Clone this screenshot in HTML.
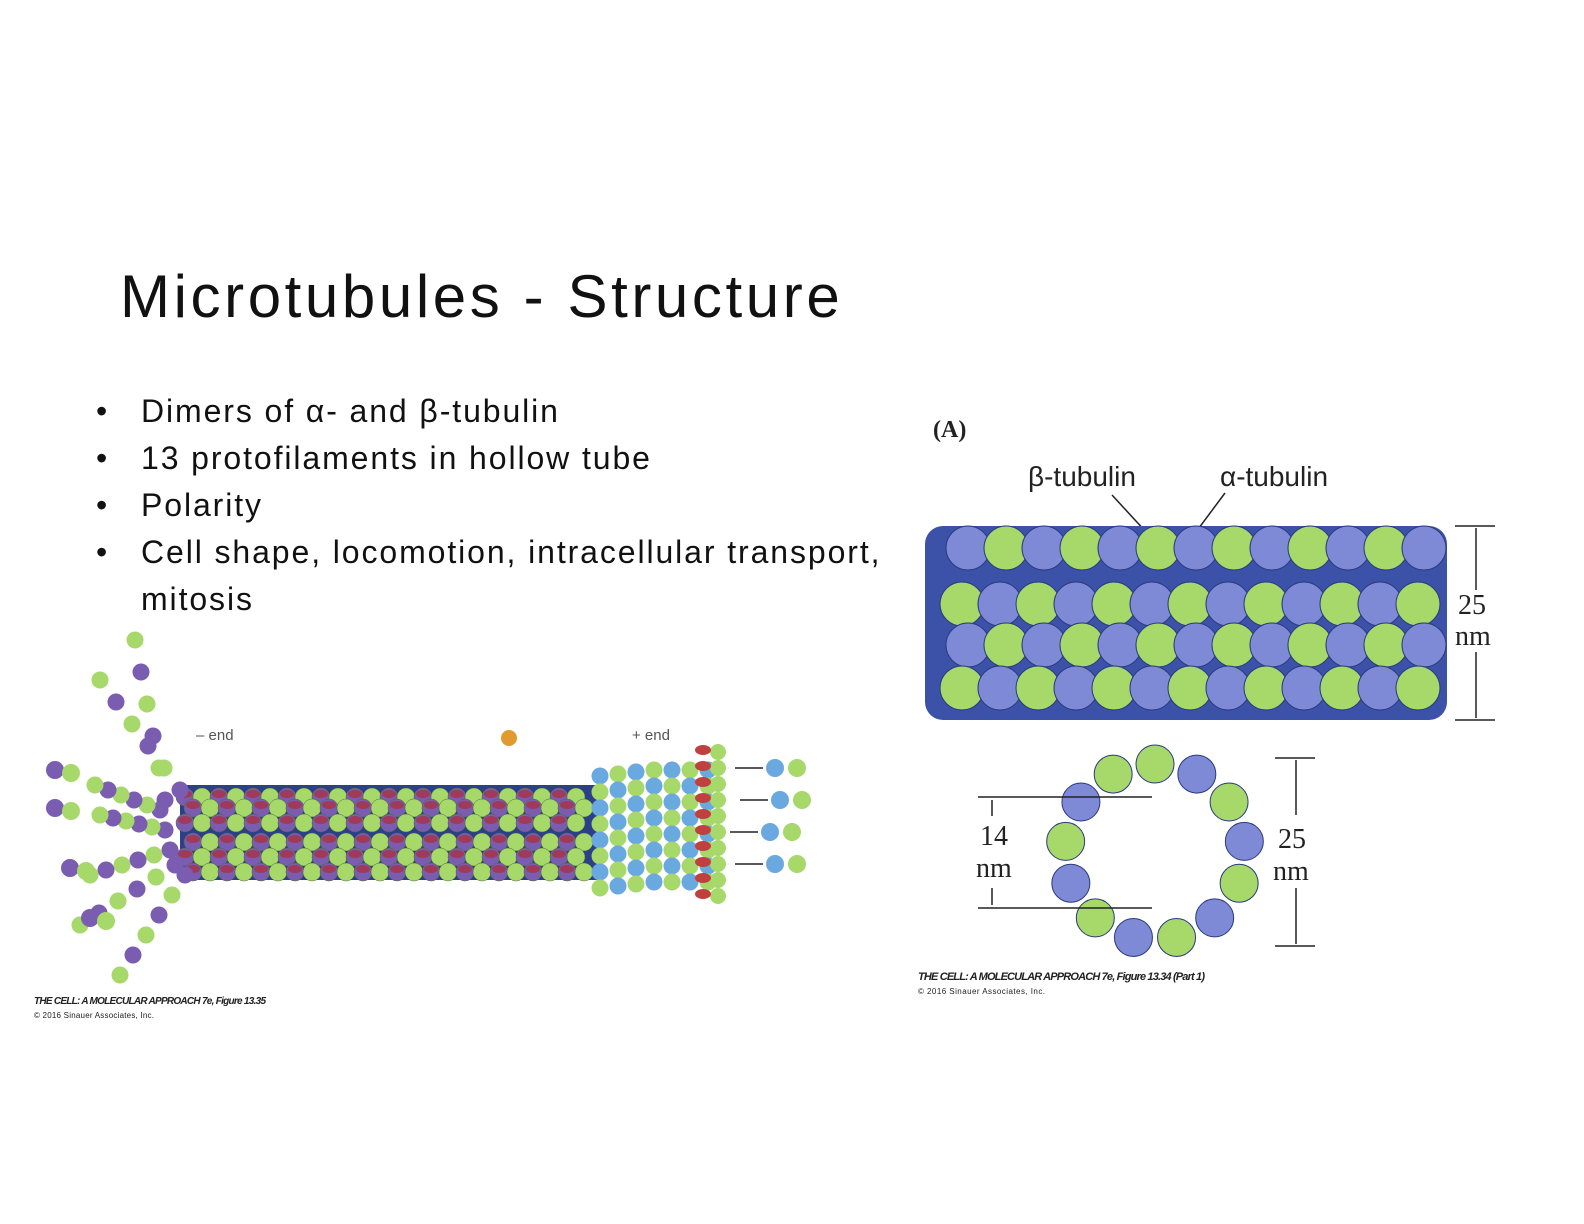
<!DOCTYPE html>
<html><head><meta charset="utf-8"><style>
body{margin:0;background:#fff;}
#page{position:relative;width:1584px;height:1224px;overflow:hidden;font-family:"Liberation Sans",sans-serif;}
.t{position:absolute;white-space:nowrap;color:#111;}
.b{font-size:32px;letter-spacing:1.9px;}
</style></head><body>
<div id="page">
<div class="t" style="left:120px;top:262px;font-size:60px;letter-spacing:3.6px;color:#111;">Microtubules - Structure</div>
<div>
<div class="t b" style="left:96px;top:393px;">•<span style="position:absolute;left:45px">Dimers of α- and β-tubulin</span></div>
<div class="t b" style="left:96px;top:440px;">•<span style="position:absolute;left:45px">13 protofilaments in hollow tube</span></div>
<div class="t b" style="left:96px;top:487px;">•<span style="position:absolute;left:45px">Polarity</span></div>
<div class="t b" style="left:96px;top:534px;">•<span style="position:absolute;left:45px">Cell shape, locomotion, intracellular transport,</span></div>
<div class="t b" style="left:141px;top:581px;">mitosis</div>
</div>
<svg id="fig" width="1584" height="1224" style="position:absolute;left:0;top:0">
<g id="left"></g>
<g id="right"></g>
</svg>
</div>
<script>
const NS='http://www.w3.org/2000/svg';
function mk(parent,tag,attrs,name){const e=document.createElementNS(NS,tag);for(const k in attrs)e.setAttribute(k,attrs[k]);


parent.appendChild(e);return e;}
const L=document.getElementById('left'),R=document.getElementById('right');
const G='#a6d86a',B='#7f8ad6',P='#7a5cb0',DB='#3c52a8',LB='#6aa8e0';
mk(L,'rect',{x:180,y:785,width:420,height:95,fill:'#2b3f8a'},'tube-core');
const rowsY=[797,808,823,842,857,872];
rowsY.forEach((y,ri)=>{for(let i=0;i<24;i++){const x=185+i*17+(ri%2)*8;
mk(L,'circle',{cx:x,cy:y,r:9,fill:(i%2?G:P),stroke:'#4a6a30','stroke-width':0.5},'tubulin-subunit');
if(i%2==0)mk(L,'ellipse',{cx:x,cy:y-3,rx:7,ry:4,fill:'#a03a5a'},'gdp-tag');}});
for(let c=0;c<7;c++){for(let r=0;r<8;r++){const x=600+c*18,y=770+r*16+(c<3?(3-c)*2:0);
mk(L,'circle',{cx:x,cy:y,r:8.5,fill:((r+c)%2?G:LB)},'plus-end-subunit');}}
for(let r=0;r<10;r++){mk(L,'circle',{cx:718,cy:752+r*16,r:8,fill:G},'plus-end-subunit');mk(L,'ellipse',{cx:703,cy:750+r*16,rx:8,ry:5,fill:'#c04040'},'gtp-tag');}
const curls=[[180,790,100,680],[165,800,135,640],[160,810,95,785],[165,830,100,815],[170,850,90,875],[175,865,80,925],[185,875,120,975]];
curls.forEach(c=>{for(let k=0;k<6;k++){const t=k/5,x=c[0]+(c[2]-c[0])*t,y=c[1]+(c[3]-c[1])*t;mk(L,'circle',{cx:x,cy:y,r:8.5,fill:(k%2?G:P)},'curling-subunit');}});
[[55,770],[55,808],[70,868],[90,918]].forEach(p=>{mk(L,'circle',{cx:p[0],cy:p[1],r:9,fill:P},'free-dimer');mk(L,'circle',{cx:p[0]+16,cy:p[1]+3,r:9,fill:G},'free-dimer');});
[[775,768],[780,800],[770,832],[775,864]].forEach(p=>{mk(L,'circle',{cx:p[0],cy:p[1],r:9,fill:LB},'gtp-dimer');mk(L,'circle',{cx:p[0]+22,cy:p[1],r:9,fill:G},'gtp-dimer');
mk(L,'line',{x1:p[0]-12,y1:p[1],x2:p[0]-40,y2:p[1],stroke:'#222','stroke-width':1.5},'arrow');});
mk(L,'circle',{cx:509,cy:738,r:8,fill:'#e09a30'},'phosphate');
function txt(g,x,y,s,size,extra,name){const e=mk(g,'text',Object.assign({x:x,y:y,'font-size':size,'font-family':'"Liberation Sans",sans-serif',fill:'#222'},extra||{}),name);e.textContent=s;return e;}
txt(L,196,740,'– end',15,{fill:'#555'},'minus-end-label');
txt(L,632,740,'+ end',15,{fill:'#555'},'plus-end-label');
txt(L,34,1004,'THE CELL: A MOLECULAR APPROACH 7e, Figure 13.35',10,{'font-style':'italic','font-weight':'bold','textLength':232},'left-caption');
txt(L,34,1018,'© 2016 Sinauer Associates, Inc.',8,{'textLength':120},'left-copyright');
txt(R,933,437,'(A)',24,{'font-family':'"Liberation Serif",serif','font-weight':'bold'},'panel-label');
txt(R,1028,486,'β-tubulin',28,{},'beta-label');
txt(R,1220,486,'α-tubulin',28,{},'alpha-label');
mk(R,'line',{x1:1112,y1:495,x2:1158,y2:545,stroke:'#222','stroke-width':1.5},'beta-pointer');
mk(R,'line',{x1:1225,y1:493,x2:1190,y2:540,stroke:'#222','stroke-width':1.5},'alpha-pointer');
mk(R,'rect',{x:925,y:526,width:522,height:194,rx:18,fill:DB},'tube-body');
const tRows=[548,604,645,688];
tRows.forEach((y,ri)=>{for(let i=0;i<13;i++){const x=968+i*38+(ri%2?-6:0);
mk(R,'circle',{cx:x,cy:y,r:22,fill:((i+ri)%2?G:B),stroke:'#2a3a80','stroke-width':1},'tube-subunit');}});
mk(R,'line',{x1:1476,y1:528,x2:1476,y2:590,stroke:'#222','stroke-width':1.5},'dim-arrow');
mk(R,'line',{x1:1476,y1:652,x2:1476,y2:718,stroke:'#222','stroke-width':1.5},'dim-arrow');
mk(R,'line',{x1:1455,y1:526,x2:1495,y2:526,stroke:'#222','stroke-width':1.5},'dim-tick');
mk(R,'line',{x1:1455,y1:720,x2:1495,y2:720,stroke:'#222','stroke-width':1.5},'dim-tick');
txt(R,1458,614,'25',28,{'font-family':'"Liberation Serif",serif'},'dim-25');
txt(R,1455,645,'nm',28,{'font-family':'"Liberation Serif",serif'},'dim-nm');
for(let k=0;k<13;k++){const a=-Math.PI/2+k*2*Math.PI/13,x=1155+90*Math.cos(a),y=852+88*Math.sin(a);
mk(R,'circle',{cx:x,cy:y,r:19,fill:(k%2?B:G),stroke:'#2a3a80','stroke-width':1},'ring-subunit');}
mk(R,'line',{x1:978,y1:797,x2:1152,y2:797,stroke:'#222','stroke-width':1.5},'inner-top');
mk(R,'line',{x1:978,y1:908,x2:1152,y2:908,stroke:'#222','stroke-width':1.5},'inner-bottom');
mk(R,'line',{x1:1275,y1:758,x2:1315,y2:758,stroke:'#222','stroke-width':1.5},'outer-top');
mk(R,'line',{x1:1275,y1:946,x2:1315,y2:946,stroke:'#222','stroke-width':1.5},'outer-bottom');
mk(R,'line',{x1:1296,y1:760,x2:1296,y2:815,stroke:'#222','stroke-width':1.5},'outer-arrow');
mk(R,'line',{x1:1296,y1:888,x2:1296,y2:944,stroke:'#222','stroke-width':1.5},'outer-arrow');
txt(R,1278,848,'25',28,{'font-family':'"Liberation Serif",serif'},'ring-dim-25');
txt(R,1273,880,'nm',28,{'font-family':'"Liberation Serif",serif'},'ring-dim-nm');
txt(R,980,845,'14',28,{'font-family':'"Liberation Serif",serif'},'ring-dim-14');
txt(R,976,877,'nm',28,{'font-family':'"Liberation Serif",serif'},'ring-dim-nm2');
mk(R,'line',{x1:992,y1:800,x2:992,y2:816,stroke:'#222','stroke-width':1.5},'inner-arrow');
mk(R,'line',{x1:992,y1:888,x2:992,y2:905,stroke:'#222','stroke-width':1.5},'inner-arrow');
txt(R,918,980,'THE CELL: A MOLECULAR APPROACH 7e, Figure 13.34 (Part 1)',11,{'font-style':'italic','font-weight':'bold','textLength':287},'right-caption');
txt(R,918,994,'© 2016 Sinauer Associates, Inc.',8,{'textLength':127},'right-copyright');
</script>
</body></html>
